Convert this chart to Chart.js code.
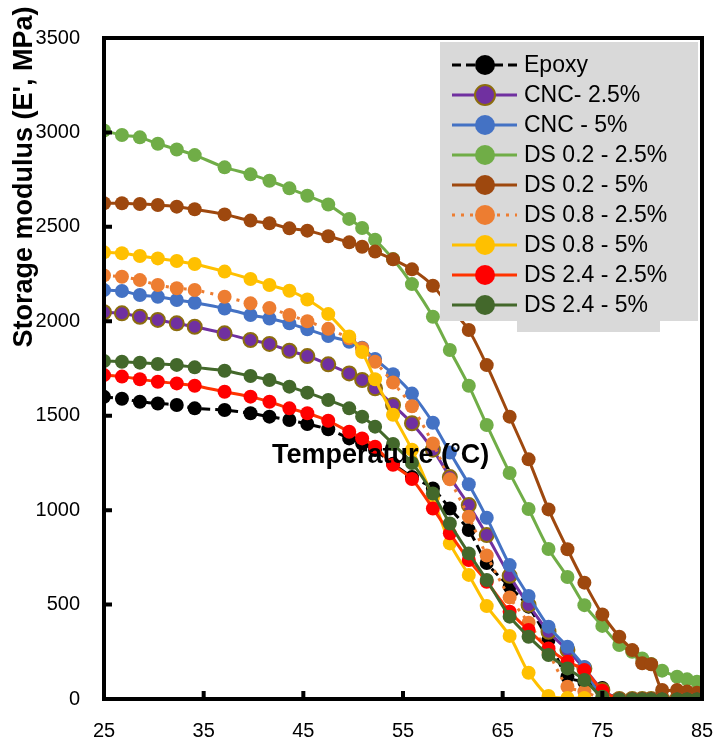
<!DOCTYPE html>
<html>
<head>
<meta charset="utf-8">
<script src="https://cdn.jsdelivr.net/npm/chart.js@4/dist/chart.umd.min.js"></script>
<style>
  html, body { margin: 0; padding: 0; background: #fff; }
  #wrap { width: 714px; height: 745px; }
</style>
</head>
<body>
<div id="wrap"><canvas id="dma-chart"></canvas></div>
<script>
// temperature grid (°C)
const temps = [25.0, 26.8, 28.6, 30.4, 32.3, 34.1, 37.1, 39.7, 41.6, 43.6, 45.4, 47.5, 49.6, 50.9, 52.2, 54.0, 55.9, 58.0,
  59.7, 61.6, 63.4, 65.7, 67.6, 69.6, 71.5, 73.2, 75.0, 76.7, 78.0, 79.0, 79.9, 81.0, 82.5, 83.5, 84.5];

// storage modulus E' (MPa), one value per temperature, null = no point
const epoxy = [1600, 1590, 1574, 1565, 1557, 1539, 1530, 1513, 1495, 1477, 1456, 1428, 1380, 1353, 1318, 1245, 1175, 1115,
  1009, 895, 720, 595, 489, 312, 118, 90, 58, 0, 0, 0, 0, 0, 0, 0, 0];
const cnc25 = [2048, 2042, 2024, 2007, 1989, 1971, 1936, 1901, 1880, 1844, 1816, 1772, 1724, 1689, 1645, 1557, 1460, 1320,
  1175, 1027, 868, 652, 498, 356, 259, 162, 48, 0, 0, 0, 0, 0, 0, 0, 0];
const cnc5 = [2165, 2160, 2139, 2130, 2113, 2098, 2068, 2033, 2015, 1989, 1958, 1922, 1892, 1860, 1800, 1720, 1617, 1463,
  1305, 1137, 960, 709, 545, 383, 277, 170, 0, 0, 0, 0, 0, 0, 0, 0, 0];
const ds02_25 = [3010, 2986, 2974, 2940, 2910, 2880, 2815, 2778, 2744, 2704, 2665, 2618, 2542, 2494, 2432, 2330, 2197, 2024,
  1848, 1659, 1451, 1197, 1006, 794, 646, 497, 387, 286, 250, 215, 185, 150, 118, 104, 92];
const ds02_5 = [2625, 2625, 2621, 2616, 2607, 2593, 2566, 2533, 2519, 2492, 2480, 2450, 2418, 2395, 2369, 2328, 2275, 2188,
  2075, 1954, 1768, 1495, 1269, 1004, 793, 616, 448, 330, 259, 189, 184, 48, 48, 40, 33];
const ds08_25 = [2243, 2236, 2218, 2192, 2175, 2166, 2130, 2095, 2070, 2033, 2000, 1960, 1910, 1857, 1786, 1676, 1550, 1353,
  1163, 965, 760, 538, 404, 245, 65, 40, 0, 0, 0, 0, 0, 0, 0, 0, 0];
const ds08_5 = [2365, 2360, 2346, 2333, 2319, 2303, 2263, 2224, 2192, 2162, 2115, 2038, 1920, 1837, 1693, 1505, 1320, 1065,
  824, 657, 492, 334, 139, 16, 5, 5, null, null, null, null, null, null, null, null, null];
const ds24_25 = [1715, 1707, 1693, 1680, 1671, 1659, 1627, 1601, 1574, 1539, 1513, 1473, 1415, 1380, 1336, 1240, 1165, 1009,
  877, 736, 621, 462, 365, 268, 197, 154, 44, 0, 0, 0, 0, 0, 0, 0, 0];
const ds24_5 = [1790, 1786, 1781, 1774, 1769, 1756, 1738, 1710, 1689, 1654, 1622, 1583, 1539, 1495, 1442, 1350, 1250, 1088,
  929, 771, 630, 436, 330, 233, 162, 101, 12, 0, 0, 0, 0, 0, 0, 0, 0];

const xTicks = [25, 35, 45, 55, 65, 75, 85];
const yTicks = [0, 500, 1000, 1500, 2000, 2500, 3000, 3500];

const FONT = '"Liberation Sans", Arial, sans-serif';

function pts(vals) {
  const out = [];
  vals.forEach((v, i) => { if (v !== null) out.push({ x: temps[i], y: v }); });
  return out;
}

const series = [
  { label: 'Epoxy', vals: epoxy, line: '#000000', fill: '#000000', edge: '#000000', dash: [9, 5] },
  { label: 'CNC- 2.5%', vals: cnc25, line: '#7030A0', fill: '#7030A0', edge: '#8C6D0E', dash: [] },
  { label: 'CNC - 5%', vals: cnc5, line: '#4472C4', fill: '#4472C4', edge: '#4472C4', dash: [] },
  { label: 'DS 0.2 - 2.5%', vals: ds02_25, line: '#70AD47', fill: '#70AD47', edge: '#70AD47', dash: [] },
  { label: 'DS 0.2 - 5%', vals: ds02_5, line: '#9E480E', fill: '#9E480E', edge: '#9E480E', dash: [] },
  { label: 'DS 0.8 - 2.5%', vals: ds08_25, line: '#ED7D31', fill: '#ED7D31', edge: '#ED7D31', dash: [3, 6] },
  { label: 'DS 0.8 - 5%', vals: ds08_5, line: '#FFC000', fill: '#FFC000', edge: '#FFC000', dash: [] },
  { label: 'DS 2.4 - 2.5%', vals: ds24_25, line: '#FF3300', fill: '#FF0000', edge: '#FF0000', dash: [] },
  { label: 'DS 2.4 - 5%', vals: ds24_5, line: '#43682B', fill: '#43682B', edge: '#43682B', dash: [] }
];

// frame, inward ticks, legend box and titles
const decor = {
  id: 'decor',
  afterDatasetsDraw(chart) {
    const { ctx, chartArea: a, scales } = chart;
    ctx.save();
    ctx.setLineDash([]);
    ctx.strokeStyle = '#000000';
    ctx.lineWidth = 4;
    ctx.beginPath();
    ctx.rect(a.left, a.top, a.right - a.left, a.bottom - a.top);
    yTicks.forEach(t => {
      const y = scales.y.getPixelForValue(t);
      ctx.moveTo(a.left, y); ctx.lineTo(a.left + 8, y);
    });
    xTicks.forEach(t => {
      const x = scales.x.getPixelForValue(t);
      ctx.moveTo(x, a.bottom); ctx.lineTo(x, a.bottom - 8);
    });
    ctx.stroke();

    ctx.fillStyle = '#D9D9D9';
    ctx.fillRect(440, 42, 258, 279);
    ctx.fillRect(517, 320, 143, 12);
    series.forEach((s, i) => {
      const y = 65 + i * 30;
      ctx.strokeStyle = s.line;
      ctx.lineWidth = 3;
      ctx.setLineDash(s.dash);
      ctx.beginPath(); ctx.moveTo(452, y); ctx.lineTo(517, y); ctx.stroke();
      ctx.setLineDash([]);
      ctx.beginPath(); ctx.arc(485, y, 10, 0, Math.PI * 2);
      ctx.fillStyle = s.fill; ctx.fill();
      if (s.edge !== s.fill) { ctx.lineWidth = 2; ctx.strokeStyle = s.edge; ctx.stroke(); }
      ctx.fillStyle = '#000';
      ctx.font = '23px ' + FONT;
      ctx.textBaseline = 'middle';
      ctx.fillText(s.label, 524, y + 1);
    });
    ctx.restore();
  },
  afterDraw(chart) {
    const { ctx } = chart;
    ctx.save();
    ctx.fillStyle = '#000';
    ctx.font = 'bold 27px ' + FONT;
    ctx.textBaseline = 'alphabetic';
    ctx.fillText('Temperature (°C)', 272, 463);
    ctx.translate(32, 177);
    ctx.rotate(-Math.PI / 2);
    ctx.textAlign = 'center';
    ctx.fillText("Storage modulus (E', MPa)", 0, 0);
    ctx.restore();
  }
};

new Chart(document.getElementById('dma-chart'), {
  type: 'line',
  plugins: [decor],
  data: {
    datasets: series.map((s, i) => ({
      label: s.label,
      data: pts(s.vals),
      borderColor: s.line,
      borderWidth: 3,
      borderDash: s.dash,
      backgroundColor: s.fill,
      pointBackgroundColor: s.fill,
      pointBorderColor: s.edge,
      pointBorderWidth: s.edge === s.fill ? 0 : 2,
      pointRadius: 7,
      tension: 0.25,
      order: series.length - i
    }))
  },
  options: {
    responsive: true,
    maintainAspectRatio: false,
    animation: false,
    layout: { padding: { left: 0, right: 12, top: 38, bottom: 0 } },
    plugins: {
      legend: { display: false },
      tooltip: { enabled: false }
    },
    scales: {
      x: {
        type: 'linear',
        min: 25,
        max: 85,
        afterFit: s => { s.height = 46; },
        afterBuildTicks: s => { s.ticks = xTicks.map(v => ({ value: v })); },
        grid: { display: false, drawTicks: true, tickLength: 20 },
        border: { display: false },
        ticks: { color: '#000', font: { family: FONT, size: 20 }, padding: 0, maxRotation: 0,
          callback: v => String(v) }
      },
      y: {
        min: 0,
        max: 3500,
        afterFit: s => { s.width = 104; },
        afterBuildTicks: s => { s.ticks = yTicks.map(v => ({ value: v })); },
        grid: { display: false, drawTicks: true, tickLength: 24 },
        border: { display: false },
        ticks: { color: '#000', font: { family: FONT, size: 20 }, padding: 0,
          callback: v => String(v) }
      }
    }
  }
});
</script>
</body>
</html>
